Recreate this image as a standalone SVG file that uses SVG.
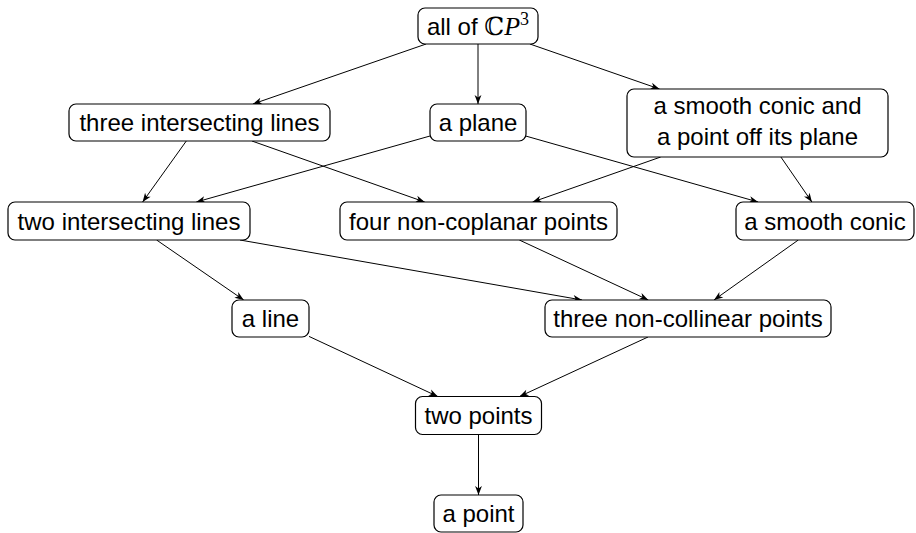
<svg xmlns="http://www.w3.org/2000/svg" width="916" height="533" viewBox="0 0 916 533">
  <style>
    .box { fill: #ffffff; stroke: #000000; stroke-width: 1.2; }
    .lbl { font-family: "Liberation Sans", Arial, sans-serif; font-size: 24px; fill: #000000; text-anchor: middle; }
    .edge { fill: none; stroke: #000000; stroke-width: 1; marker-end: url(#arrow); }
  </style>
  <defs>
    <marker id="arrow" markerUnits="userSpaceOnUse" markerWidth="12" markerHeight="10" viewBox="-10 -5 12 10" refX="0" refY="0" orient="auto">
      <path d="M0,0 L-9,-3.4 L-6.5,0 L-9,3.4 Z" fill="#000000"/>
    </marker>
  </defs>
  <rect width="916" height="533" fill="#ffffff"/>

  <!-- connectors -->
  <g id="edges">
    <line class="edge" x1="426.1" y1="44" x2="252.9" y2="104"/>
    <line class="edge" x1="478" y1="44" x2="478" y2="104"/>
    <line class="edge" x1="529.9" y1="44" x2="659.5" y2="89"/>
    <line class="edge" x1="186.3" y1="141" x2="142.6" y2="202"/>
    <line class="edge" x1="251.9" y1="141" x2="424.7" y2="202"/>
    <line class="edge" x1="430" y1="136" x2="196.3" y2="202"/>
    <line class="edge" x1="526" y1="136.1" x2="758.1" y2="202"/>
    <line class="edge" x1="660.7" y1="157" x2="532.6" y2="202"/>
    <line class="edge" x1="780.9" y1="157" x2="811.9" y2="202"/>
    <line class="edge" x1="156.6" y1="240" x2="243.7" y2="300"/>
    <line class="edge" x1="240" y1="240" x2="582" y2="300"/>
    <line class="edge" x1="519.3" y1="240" x2="648.3" y2="300"/>
    <line class="edge" x1="798.3" y1="240" x2="714" y2="300"/>
    <line class="edge" x1="309" y1="336.4" x2="437.8" y2="396.5"/>
    <line class="edge" x1="648" y1="337" x2="519.5" y2="396.5"/>
    <line class="edge" x1="478.5" y1="434.5" x2="478.5" y2="495"/>
  </g>

  <!-- nodes -->
  <g id="all-cp3">
    <rect class="box" x="418" y="8" width="120" height="36" rx="7"/>
    <text class="lbl" x="478" y="34.5">all of <tspan font-family="'DejaVu Serif', serif" font-size="25">ℂ</tspan><tspan font-family="'Liberation Serif', serif" font-style="italic" font-size="26">P</tspan><tspan font-family="'Liberation Serif', serif" font-size="18" dy="-10">3</tspan></text>
  </g>
  <g id="three-intersecting-lines">
    <rect class="box" x="69" y="104" width="261" height="37" rx="7"/>
    <text class="lbl" x="199.5" y="131">three intersecting lines</text>
  </g>
  <g id="a-plane">
    <rect class="box" x="430" y="104" width="96" height="37" rx="7"/>
    <text class="lbl" x="478" y="131">a plane</text>
  </g>
  <g id="conic-and-point">
    <rect class="box" x="627" y="89" width="261" height="68" rx="7"/>
    <text class="lbl" x="757.5" y="114">a smooth conic and</text>
    <text class="lbl" x="757.5" y="145">a point off its plane</text>
  </g>
  <g id="two-intersecting-lines">
    <rect class="box" x="8" y="202" width="242" height="38" rx="7"/>
    <text class="lbl" x="129" y="229.5">two intersecting lines</text>
  </g>
  <g id="four-non-coplanar-points">
    <rect class="box" x="340" y="202" width="277" height="38" rx="7"/>
    <text class="lbl" x="478.5" y="229.5">four non-coplanar points</text>
  </g>
  <g id="a-smooth-conic">
    <rect class="box" x="736" y="202" width="178" height="38" rx="7"/>
    <text class="lbl" x="825" y="229.5">a smooth conic</text>
  </g>
  <g id="a-line">
    <rect class="box" x="232" y="300" width="77" height="37" rx="7"/>
    <text class="lbl" x="270.5" y="327">a line</text>
  </g>
  <g id="three-non-collinear-points">
    <rect class="box" x="545" y="300" width="286" height="37" rx="7"/>
    <text class="lbl" x="688" y="327">three non-collinear points</text>
  </g>
  <g id="two-points">
    <rect class="box" x="415.5" y="396.5" width="126" height="38" rx="7"/>
    <text class="lbl" x="478.5" y="424">two points</text>
  </g>
  <g id="a-point">
    <rect class="box" x="434" y="495" width="89" height="37" rx="7"/>
    <text class="lbl" x="478.5" y="522">a point</text>
  </g>
</svg>
